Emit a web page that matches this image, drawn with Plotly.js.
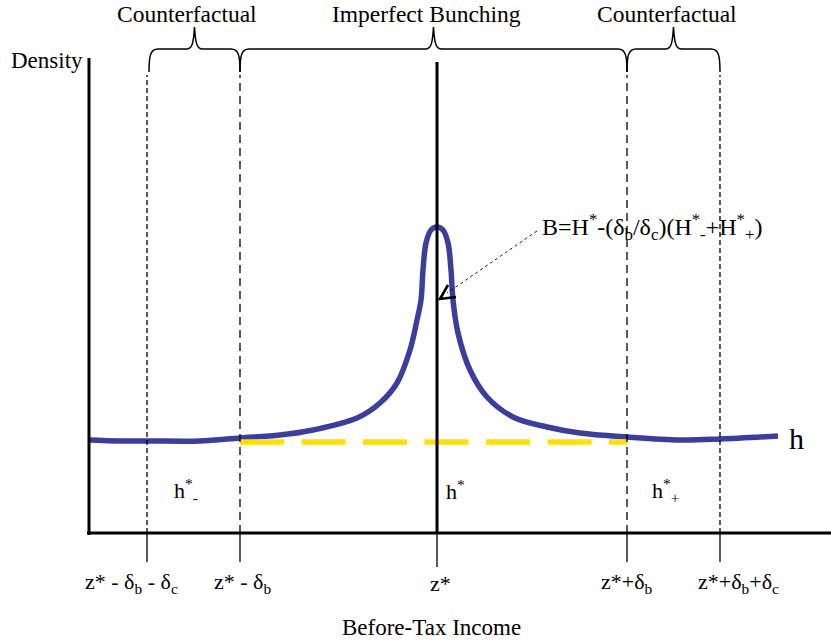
<!DOCTYPE html>
<html><head><meta charset="utf-8">
<script src="https://cdn.plot.ly/plotly-3.0.1.min.js"></script>
<style>html,body{margin:0;padding:0;background:#fff;}</style>
</head><body><div id="chart" style="width:831px;height:644px"></div>
<script>
// ---- data (income units with origin at the axes corner) ----
const incomeX   = [0,31,61,111,151,191,224,268,291,308,321,328,332,334,337,342,348,354,359,362,364,369,381,398,424,458,491,538,591,631,689];
const densityY  = [93,92,92,92,95,98,103,115,130,150,183,213,233,263,290,303,306,303,290,263,233,200,163,136,116,106,100,96,93,94,97];
const thresholds = [58,151,348,538,631];   // z*-δb-δc, z*-δb, z*, z*+δb, z*+δb+δc
const thresholdLabels = ['z* - δ<sub>b</sub> - δ<sub>c</sub>','z* - δ<sub>b</sub>','z*','z*+δ<sub>b</sub>','z*+δ<sub>b</sub>+δ<sub>c</sub>'];
const counterfactualDensity = 91;
const regionLabels = ['Counterfactual','Imperfect Bunching','Counterfactual'];
const regionSpans = [[0,1],[1,3],[3,4]];
const hLabels = ['h<sup>*</sup><sub>-</sub>','h<sup>*</sup>','h<sup>*</sup><sub>+</sub>'];
const formula = 'B=H<sup>*</sup>-(δ<sub>b</sub>/δ<sub>c</sub>)(H<sup>*</sup><sub>-</sub>+H<sup>*</sup><sub>+</sub>)';

// ---- styling / layout ----
const FONT = '"Liberation Serif", "Times New Roman", serif';
const topY = 475, axisTop = 471, dashTop = 458;
const braceBase = 484, braceTip = 506, braceEnd = 461;

const shapes = [];
const L = (x0,y0,x1,y1,w,dash) => shapes.push({type:'line',xref:'x',yref:'y',x0,y0,x1,y1,line:{color:'#000',width:w,dash:dash||'solid'}});

// axes
L(0,-2,0,topY,3);
L(-2,0,742,0,3);
// z* solid line
L(thresholds[2],0,thresholds[2],axisTop,3);
// dashed boundaries
[0,1,3,4].forEach(i=>{
  const outer = (i===0||i===4);
  L(thresholds[i],0,thresholds[i],dashTop,1.3,outer?'5px,3px':'8px,5px');
});
// tick marks below axis
thresholds.forEach((t,i)=>L(t,0,t,i===2?-34:-29,1.3));

// braces
function brace(a,b){
  const c=(a+b)/2, yb=braceBase, yt=braceTip, ye=braceEnd;
  return `M ${a},${ye} C ${a},${yb-8} ${a+1},${yb} ${a+9},${yb} L ${c-8},${yb} C ${c-3},${yb} ${c-1},${yb+4} ${c},${yt} `+
         `C ${c+1},${yb+4} ${c+3},${yb} ${c+8},${yb} L ${b-9},${yb} C ${b-1},${yb} ${b},${yb-8} ${b},${ye}`;
}
regionSpans.forEach(([i,j])=>{
  const a = thresholds[i] + (i===0?2:0);
  shapes.push({type:'path',xref:'x',yref:'y',path:brace(a,thresholds[j]),line:{color:'#000',width:1.5}});
});

// dotted pointer and arrow head
L(448,302,358,240,0.9,'dot');
shapes.push({type:'path',xref:'x',yref:'y',path:'M 359,248 L 351,234 L 367,236',line:{color:'#000',width:2.6}});

const annotations = [];
const A = (x,y,text,size,opts) => annotations.push(Object.assign({x,y,xref:'x',yref:'y',text,showarrow:false,
  font:{family:FONT,size,color:'#000'},xanchor:'center',yanchor:'middle'},opts||{}));

const tickShift = [-16,2,3,0,18];
thresholds.forEach((t,i)=>A(t,-50,thresholdLabels[i],22,{xshift:tickShift[i]}));
regionSpans.forEach(([i,j],k)=>A((thresholds[i]+thresholds[j])/2,519,regionLabels[k],23.5,{xshift:-7}));
const hPos = [(thresholds[0]+thresholds[1])/2, thresholds[2], (thresholds[3]+thresholds[4])/2];
const hShift = [-8,18,-8];
hPos.forEach((x,k)=>A(x,43,hLabels[k],22,{xshift:hShift[k]}));
A(incomeX[incomeX.length-1],densityY[densityY.length-1],'h',30,{xanchor:'left',xshift:9,yshift:-2});
A(451,306,formula,24,{xanchor:'left'});
A(-42,473,'Density',23);
A(342,-94,'Before-Tax Income',23);

const traces = [
  {x:incomeX,y:densityY,mode:'lines',line:{color:'#3b3f9b',width:5.5,shape:'spline',smoothing:1},hoverinfo:'skip'},
  {x:[thresholds[1],thresholds[3]],y:[counterfactualDensity,counterfactualDensity],mode:'lines',
   line:{color:'#ffdf00',width:5.5,dash:'44px,17.5px'},hoverinfo:'skip'}
];

const layout = {
  width:831,height:644,margin:{l:0,r:0,t:0,b:0},
  paper_bgcolor:'#fff',plot_bgcolor:'#fff',showlegend:false,
  xaxis:{range:[-89,742],visible:false,fixedrange:true},
  yaxis:{range:[-111,533],visible:false,fixedrange:true},
  shapes,annotations
};
Plotly.newPlot('chart',traces,layout,{staticPlot:true,displayModeBar:false});
</script></body></html>
